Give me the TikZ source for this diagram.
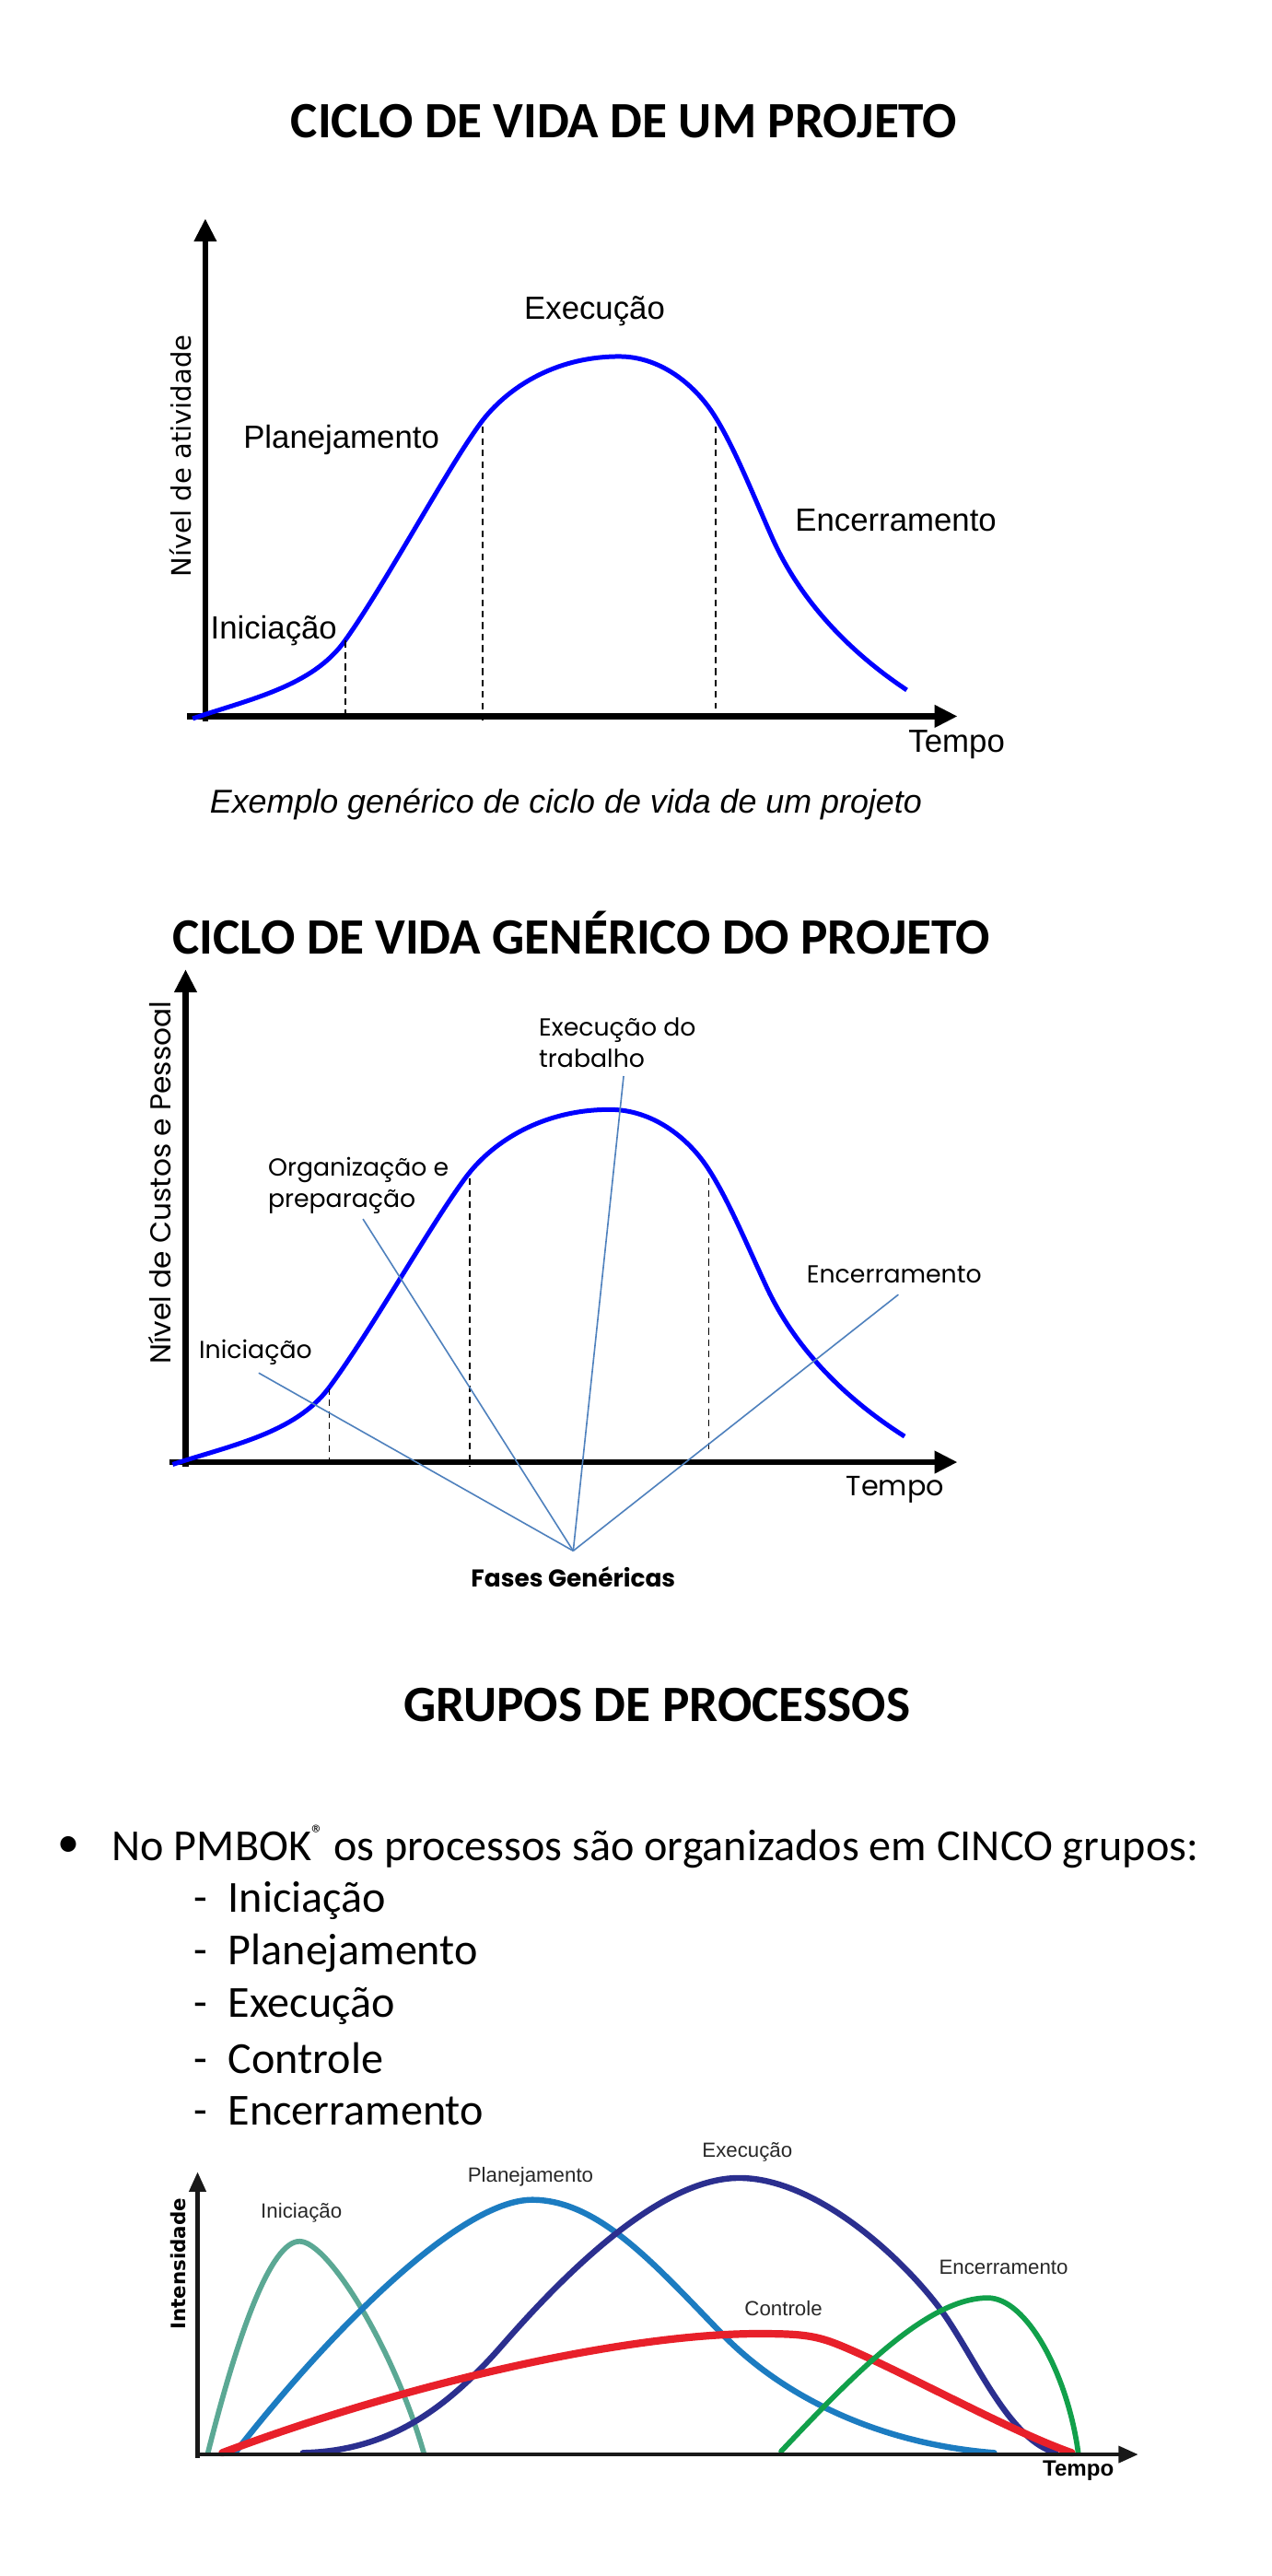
\documentclass[tikz,border=0pt]{standalone}
\usepackage{fontspec}
\setmainfont{Carlito}
\newfontfamily\labfont{Liberation Sans}
\newfontfamily\dvfont{DejaVu Sans}
\newfontfamily\gothfont{Poppins}
\usetikzlibrary{arrows.meta}
\definecolor{curveblue}{RGB}{0,0,255}
\definecolor{pointer}{RGB}{79,129,189}
\definecolor{cini}{RGB}{91,168,148}
\definecolor{cplan}{RGB}{28,124,193}
\definecolor{cexec}{RGB}{43,47,143}
\definecolor{cctrl}{RGB}{232,32,42}
\definecolor{cenc}{RGB}{17,160,74}
\definecolor{lblgray}{RGB}{40,40,40}
\tikzset{
  title/.style={font=\bfseries\fontsize{31}{36}\selectfont, inner sep=0pt},
  axis/.style={line width=3.5pt, -{Triangle[length=14pt,width=13pt]}},
  axisthin/.style={line width=2.4pt, draw=black!90, -{Triangle[length=12pt,width=10pt]}},
  lifecurve/.style={draw=curveblue, line width=2.8pt},
  phaseline/.style={line width=0.9pt, dash pattern=on 4pt off 3pt},
  lab1/.style={font=\labfont\fontsize{19.5}{22}\selectfont, inner sep=0pt},
  lab2/.style={font=\gothfont\fontsize{15}{19}\selectfont, inner sep=0pt, align=left},
  ptr/.style={draw=pointer, line width=0.9pt},
  listtxt/.style={font=\fontsize{27}{32}\selectfont, inner sep=0pt},
  lab3/.style={font=\labfont\fontsize{12.5}{14}\selectfont, text=lblgray, inner sep=0pt},
  grp/.style={line width=3.2pt, line cap=round},
}
% life-cycle curve and phase lines, in section-1 coordinates
\newcommand{\lifecyclecurve}{%
  \draw[lifecurve] (117.3,437.4) .. controls (152,425.5) and (190,418) .. (210,390)
    .. controls (235,355) and (273,283.8) .. (293,257)
    .. controls (308,237) and (337,217) .. (377,217)
    .. controls (402,217) and (423,234) .. (435,253)
    .. controls (447,272) and (458,300) .. (470,327)
    .. controls (490,372) and (525,402) .. (552.1,420);
  \draw[phaseline] (210.3,390) -- (210.3,434);
  \draw[phaseline] (293.7,259.8) -- (293.7,438.5);
  \draw[phaseline] (435.7,259.8) -- (435.7,431);
}
\begin{document}
\begin{tikzpicture}[x=1pt,y=-1pt]
\useasboundingbox (0,0) rectangle (774,1568);
\fill[white] (0,0) rectangle (774,1568);

% ---------------- Section 1 ----------------
\node[title] (t1) at (380,74) {CICLO DE VIDA DE UM PROJETO};
\coordinate (y1b) at (125,439);
\coordinate (y1t) at (125,133);
\coordinate (x1l) at (114,436);
\coordinate (x1r) at (583,436);
\draw[axis] (y1b) -- (y1t);
\draw[axis] (x1l) -- (x1r);
\lifecyclecurve
\node[lab1, anchor=base west] (exe1) at (319,194.3) {Execução};
\node[lab1, anchor=base west] (pla1) at (148,272.8) {Planejamento};
\node[lab1, anchor=base west] (enc1) at (484,323.2) {Encerramento};
\node[lab1, anchor=base west] (ini1) at (128,388.7) {Iniciação};
\node[lab1, anchor=base west] (tem1) at (553,458) {Tempo};
\node[font=\dvfont\fontsize{16.3}{18}\selectfont, rotate=90, inner sep=0pt] (ylab1) at (110,277.6) {Nível de atividade};
\node[font=\labfont\itshape\fontsize{20.1}{22}\selectfont, inner sep=0pt, anchor=base west] (cap1) at (127.6,495) {Exemplo genérico de ciclo de vida de um projeto};

% ---------------- Section 2 ----------------
\node[title] (t2) at (354,568) {CICLO DE VIDA GENÉRICO DO PROJETO};
\coordinate (y2b) at (113,893);
\coordinate (y2t) at (113,590);
\coordinate (x2l) at (103,890);
\coordinate (x2r) at (583,890);
\draw[axis] (y2b) -- (y2t);
\draw[axis] (x2l) -- (x2r);
\begin{scope}[cm={1.025,0,0,0.98,(-15.125pt,-462.72pt)}]
\lifecyclecurve
\end{scope}
\node[lab2, anchor=west] (exe2) at (328,634.5) {Execução do\\trabalho};
\node[lab2, anchor=west] (org2) at (163,721.5) {Organização e\\preparação};
\node[lab2, anchor=west] (enc2) at (491,776) {Encerramento};
\node[lab2, anchor=west] (ini2) at (121,823) {Iniciação};
\node[font=\gothfont\fontsize{17}{20}\selectfont, inner sep=0pt, anchor=west] (tem2) at (515,907) {Tempo};
\node[font=\gothfont\fontsize{17.5}{20}\selectfont, rotate=90, inner sep=0pt] (ylab2) at (97,720) {Nível de Custos e Pessoal};
\node[font=\gothfont\bfseries\fontsize{14.8}{17}\selectfont, inner sep=0pt] (fases) at (349,960) {Fases Genéricas};
\coordinate (fg) at (349,944);
\coordinate (pini) at (157.5,835.7);
\coordinate (porg) at (221,742);
\coordinate (pexe) at (379.7,655);
\coordinate (penc) at (547,788);
\draw[ptr] (pini) -- (fg);
\draw[ptr] (porg) -- (fg);
\draw[ptr] (pexe) -- (fg);
\draw[ptr] (penc) -- (fg);

% ---------------- Section 3 ----------------
\node[title] (t3) at (400,1038) {GRUPOS DE PROCESSOS};
\node[listtxt] (bul) at (42,1124) {•};
\node[listtxt, anchor=west] (l0) at (68,1124) {No PMBOK\raisebox{0.42em}{\fontsize{15}{15}\selectfont ®} os processos são organizados em CINCO grupos:};
\node[listtxt, anchor=west] (l1) at (118,1157) {-\hspace{12.5pt}Iniciação};
\node[listtxt, anchor=west] (l2) at (118,1189) {-\hspace{12.5pt}Planejamento};
\node[listtxt, anchor=west] (l3) at (118,1221) {-\hspace{12.5pt}Execução};
\node[listtxt, anchor=west] (l4) at (118,1253) {-\hspace{12.5pt}Controle};
\node[listtxt, anchor=west] (l5) at (118,1285) {-\hspace{12.5pt}Encerramento};

\coordinate (y3b) at (120.3,1496);
\coordinate (y3t) at (120.3,1322);
\coordinate (x3l) at (118.8,1494);
\coordinate (x3r) at (693,1494);
\draw[grp, draw=cini] (126.6,1493) .. controls (145,1420) and (165,1364) .. (182.5,1364.3)
   .. controls (200,1364.5) and (240,1430) .. (258,1493);
\draw[grp, draw=cplan, line width=3.6pt] (143.1,1493) .. controls (200,1420) and (280,1339) .. (324,1339)
   .. controls (365,1339) and (400,1380) .. (440,1421)
   .. controls (480,1462) and (540,1488) .. (605.4,1493);
\draw[grp, draw=cexec, line width=3.6pt] (184.4,1493) .. controls (235,1492) and (270,1468) .. (304.4,1429.1)
   .. controls (339.4,1388.9) and (400,1325.7) .. (450,1325.7)
   .. controls (500,1325.7) and (555.9,1380.9) .. (575.9,1410.3)
   .. controls (595.9,1439.7) and (615,1485) .. (642.8,1493);
\draw[grp, draw=cctrl, line width=4.6pt] (135.3,1493) .. controls (250,1450) and (380,1421) .. (460,1420.5)
   .. controls (485,1420.5) and (495,1421) .. (510,1427)
   .. controls (545,1441) and (615,1480) .. (652.6,1493);
\draw[grp, draw=cenc] (475.6,1492.1) .. controls (520,1445) and (565,1398.7) .. (601.4,1398.7)
   .. controls (625,1398.7) and (650,1445) .. (656.5,1493);
\draw[axisthin] (y3b) -- (y3t);
\draw[axisthin] (x3l) -- (x3r);
\node[lab3] (ini3) at (183.5,1347) {Iniciação};
\node[lab3] (pla3) at (323,1325) {Planejamento};
\node[lab3] (exe3) at (455,1310) {Execução};
\node[lab3] (ctl3) at (477,1405) {Controle};
\node[lab3] (enc3) at (611,1380) {Encerramento};
\node[font=\dvfont\bfseries\fontsize{12}{14}\selectfont, rotate=90, inner sep=0pt] (ylab3) at (108.7,1378) {Intensidade};
\node[font=\labfont\bfseries\fontsize{13.5}{16}\selectfont, inner sep=0pt] (tem3) at (656.5,1504) {Tempo};
\end{tikzpicture}
\end{document}
